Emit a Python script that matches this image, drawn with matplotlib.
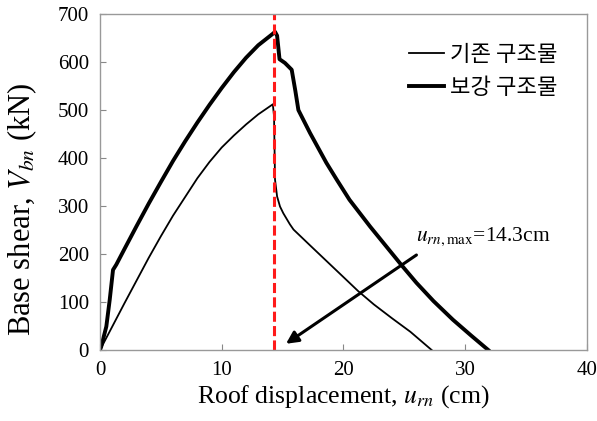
import matplotlib.pyplot as plt

plt.rcParams['font.family'] = ['Liberation Serif', 'Noto Sans CJK KR']
plt.rcParams['mathtext.fontset'] = 'stix'

# 보강 구조물 (retrofitted)
x_ret = [0, 0.1, 0.52, 0.8, 1.07, 1.34, 2, 3, 4, 5, 6, 7, 8, 9, 10, 11, 12, 13,
         14.2, 14.38, 14.55, 14.75, 15.2, 15.75, 16.05, 16.3, 17.26, 18.6, 19.45,
         20.5, 22.2, 24.8, 26, 27.4, 29, 30.5, 31.9]
y_ret = [0, 7, 49, 105, 167, 178, 210, 258, 305, 350, 394, 435, 474, 511, 546,
         579, 609, 635, 659, 663, 655, 606, 598, 584, 540, 500, 452, 390, 355,
         313, 257, 176, 140, 102, 63, 30, 0]

# 기존 구조물 (existing)
x_ex = [0, 2, 4, 5, 6, 8, 9, 10, 11, 12, 13, 14.2, 14.3, 14.38, 14.55, 14.79,
        15.06, 15.6, 15.9, 17.26, 18.63, 20, 21.2, 22.5, 24, 25.5, 27.25]
y_ex = [0, 97, 192, 237, 280, 358, 392, 422, 447, 470, 491, 512, 487, 355, 320,
        299, 285, 262, 251, 218, 185, 152, 123, 95, 66, 38, 0]

u_max = 14.3

fig = plt.figure(figsize=(5.97, 4.21), dpi=100)
ax = fig.add_axes([0.1675, 0.1686, 0.8155, 0.798])

ax.plot(x_ex, y_ex, color='black', lw=1.3, label='기존 구조물')
ax.plot(x_ret, y_ret, color='black', lw=2.8, label='보강 구조물')
ax.axvline(u_max, color='#ff1a1a', lw=2.2, dashes=(3.3, 1.4))

ax.annotate('', xy=(15.28, 13), xytext=(26.0, 198),
            arrowprops=dict(arrowstyle='-|>', color='black', lw=2.2,
                            mutation_scale=18, shrinkA=0, shrinkB=0))
ax.text(26.0, 236, r'$u_{rn,\mathrm{max}}$=14.3cm', fontsize=15.5, va='center', ha='left')

ax.set_xlim(0, 40)
ax.set_ylim(0, 700)
ax.set_xticks([0, 10, 20, 30, 40])
ax.set_yticks(range(0, 701, 100))
ax.tick_params(direction='in', length=4, color='#888888', labelsize=15, pad=8)
for s in ax.spines.values():
    s.set_color('#999999')
    s.set_linewidth(1.0)

ax.set_xlabel(r'Roof displacement, $u_{rn}$ (cm)', fontsize=18.5, labelpad=2)
ax.set_ylabel(r'Base shear, $V_{bn}$ (kN)', fontsize=22)
ax.yaxis.set_label_coords(-0.125, 0.42)

ax.legend(loc='upper right', frameon=False, handlelength=1.55,
          handletextpad=0.3, labelspacing=0.45, borderaxespad=0.9,
          prop={'family': 'Noto Sans CJK KR', 'size': 16})

fig.savefig('out.png', dpi=100)
